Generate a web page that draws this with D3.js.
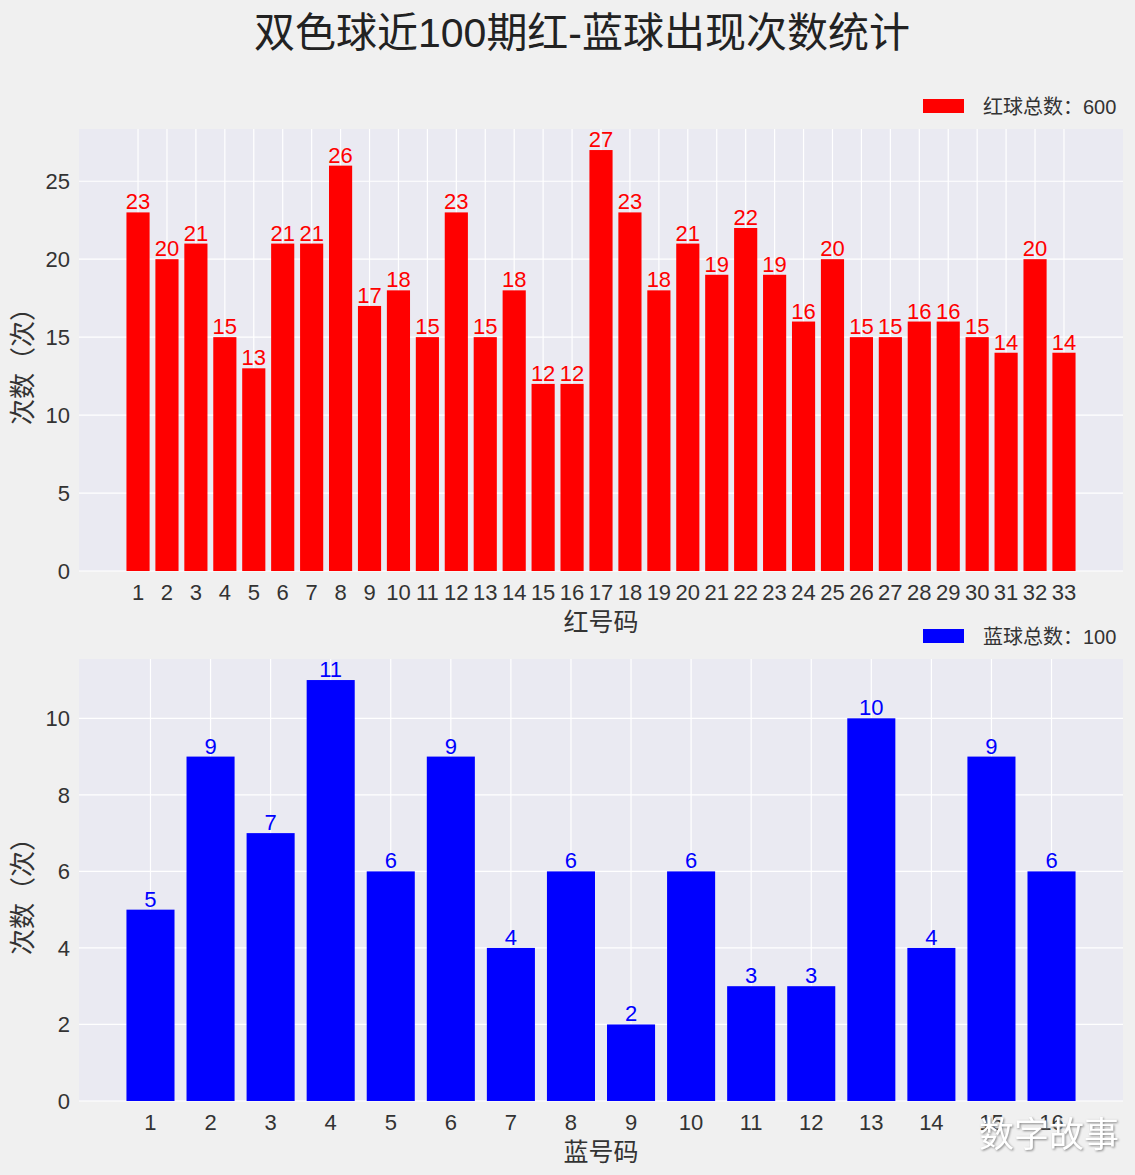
<!DOCTYPE html>
<html>
<head>
<meta charset="utf-8">
<script src="https://cdn.jsdelivr.net/npm/d3@7"></script>
<style>
  body { margin: 0; background: #f0f0f0; }
  svg text { font-family: "Liberation Sans", "Noto Sans CJK SC", sans-serif; }
</style>
</head>
<body>
<svg id="chart"></svg>
<script>
const width = 1135
const height = 1175

const redNumbers = d3.range(1, 34)
const redCounts = [23, 20, 21, 15, 13, 21, 21, 26, 17, 18, 15, 23, 15, 18, 12, 12, 27,
  23, 18, 21, 19, 22, 19, 16, 20, 15, 15, 16, 16, 15, 14, 20, 14]
const blueNumbers = d3.range(1, 17)
const blueCounts = [5, 9, 7, 11, 6, 9, 4, 6, 2, 6, 3, 3, 10, 4, 9, 6]
const redTicks = [0, 5, 10, 15, 20, 25]
const blueTicks = [0, 2, 4, 6, 8, 10]

const svg = d3.select("#chart")
  .attr("width", width)
  .attr("height", height)
  .style("background", "#f0f0f0")

svg.append("text")
  .attr("x", 582)
  .attr("y", 47)
  .attr("text-anchor", "middle")
  .attr("font-size", 41)
  .attr("fill", "#222")
  .text("双色球近100期红-蓝球出现次数统计")

function drawPanel(opts) {
  const { numbers, counts, ticks, color, top, bottom, xLabel, legend } = opts
  const left = 79, right = 1123
  const n = numbers.length
  // bars span [0.6, n+0.4], matplotlib-style 5% margins
  const lo = 0.6, hi = n + 0.4, m = (hi - lo) * 0.05
  const x = d3.scaleLinear().domain([lo - m, hi + m]).range([left, right])
  const yMax = d3.max(counts) * 1.05
  const y = d3.scaleLinear().domain([0, yMax]).range([bottom, top])

  const g = svg.append("g")
  g.append("rect")
    .attr("x", left).attr("y", top)
    .attr("width", right - left).attr("height", bottom - top)
    .attr("fill", "#eaeaf2")

  g.selectAll("line.hgrid").data(ticks).join("line")
    .attr("class", "hgrid")
    .attr("x1", left).attr("x2", right)
    .attr("y1", d => y(d)).attr("y2", d => y(d))
    .attr("stroke", "#fff").attr("stroke-width", 1.2)

  g.selectAll("line.vgrid").data(numbers).join("line")
    .attr("class", "vgrid")
    .attr("x1", d => x(d)).attr("x2", d => x(d))
    .attr("y1", top).attr("y2", bottom)
    .attr("stroke", "#fff").attr("stroke-width", 1.2)

  g.selectAll("rect.bar").data(numbers).join("rect")
    .attr("class", "bar")
    .attr("x", d => x(d - 0.4))
    .attr("width", d => x(d + 0.4) - x(d - 0.4))
    .attr("y", (d, i) => y(counts[i]))
    .attr("height", (d, i) => y(0) - y(counts[i]))
    .attr("fill", color)

  g.selectAll("text.val").data(numbers).join("text")
    .attr("class", "val")
    .attr("x", d => x(d))
    .attr("y", (d, i) => y(counts[i]) - 3)
    .attr("text-anchor", "middle")
    .attr("font-size", 22)
    .attr("fill", color)
    .text((d, i) => counts[i])

  g.selectAll("text.ytick").data(ticks).join("text")
    .attr("class", "ytick")
    .attr("x", 70)
    .attr("y", d => y(d) + 8)
    .attr("text-anchor", "end")
    .attr("font-size", 22)
    .attr("fill", "#333")
    .text(d => d)

  g.selectAll("text.xtick").data(numbers).join("text")
    .attr("class", "xtick")
    .attr("x", d => x(d))
    .attr("y", bottom + 29)
    .attr("text-anchor", "middle")
    .attr("font-size", 22)
    .attr("fill", "#333")
    .text(d => d)

  g.append("text")
    .attr("x", (left + right) / 2)
    .attr("y", bottom + 60)
    .attr("text-anchor", "middle")
    .attr("font-size", 25)
    .attr("fill", "#333")
    .text(xLabel)

  g.append("text")
    .attr("transform", `translate(32, ${(top + bottom) / 2 + 10}) rotate(-90)`)
    .attr("text-anchor", "middle")
    .attr("font-size", 26)
    .attr("fill", "#333")
    .text("次数（次）")

  g.append("rect")
    .attr("x", 923).attr("y", top - 30)
    .attr("width", 41).attr("height", 14)
    .attr("fill", color)
  g.append("text")
    .attr("x", 983).attr("y", top - 15)
    .attr("font-size", 20)
    .attr("fill", "#333")
    .text(legend)
}

drawPanel({
  numbers: redNumbers, counts: redCounts, ticks: redTicks, color: "#ff0000",
  top: 129, bottom: 571, xLabel: "红号码", legend: "红球总数：600"
})

drawPanel({
  numbers: blueNumbers, counts: blueCounts, ticks: blueTicks, color: "#0000ff",
  top: 659, bottom: 1101, xLabel: "蓝号码", legend: "蓝球总数：100"
})

// watermark
svg.append("text")
  .attr("x", 1119).attr("y", 1147)
  .attr("text-anchor", "end")
  .attr("font-size", 35)
  .attr("fill", "#fff")
  .style("font-family", "'Noto Sans CJK SC'")
  .style("filter", "drop-shadow(1px 1px 1px #888)")
  .text("数字故事")
</script>
</body>
</html>
